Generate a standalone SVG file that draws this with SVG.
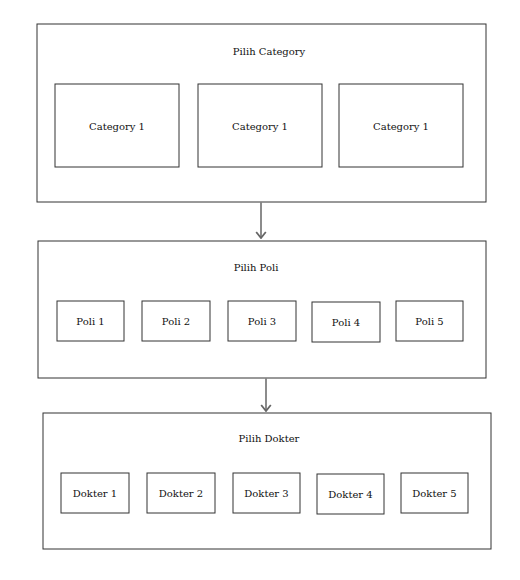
<svg xmlns="http://www.w3.org/2000/svg" width="520" height="580" viewBox="0 0 520 580">
<defs>
<style>
.box{fill:#fff;stroke:#333;stroke-width:1}
.t{font-family:"DejaVu Serif","Liberation Serif",serif;font-size:10px;fill:#111;text-anchor:middle;dominant-baseline:central}
.c{fill:none;stroke:#666;stroke-width:1.5}
</style>
<marker id="ah" markerWidth="12" markerHeight="12" refX="9" refY="5" orient="auto" markerUnits="userSpaceOnUse" viewBox="0 0 10 10">
<path d="M4,1 L9,5 L4,9" fill="none" stroke="#666" stroke-width="1.5"/>
</marker>
</defs>
<rect width="520" height="580" fill="#fff"/>
<g id="pilih-category">
<rect class="box" x="37" y="24" width="449" height="178"/>
<text class="t" x="269" y="51">Pilih Category</text>
</g>
<g id="category-1a"><rect class="box" x="55" y="84" width="124" height="83"/><text class="t" x="117" y="126">Category 1</text></g>
<g id="category-1b"><rect class="box" x="198" y="84" width="124" height="83"/><text class="t" x="260" y="126">Category 1</text></g>
<g id="category-1c"><rect class="box" x="339" y="84" width="124" height="83"/><text class="t" x="401" y="126">Category 1</text></g>
<g id="pilih-poli">
<rect class="box" x="38" y="241" width="448" height="137"/>
<text class="t" x="256" y="267">Pilih Poli</text>
</g>
<g id="poli-1"><rect class="box" x="57" y="301" width="67" height="40"/><text class="t" x="90.5" y="321">Poli 1</text></g>
<g id="poli-2"><rect class="box" x="142" y="301" width="68" height="40"/><text class="t" x="176" y="321">Poli 2</text></g>
<g id="poli-3"><rect class="box" x="228" y="301" width="68" height="40"/><text class="t" x="262" y="321">Poli 3</text></g>
<g id="poli-4"><rect class="box" x="312" y="302" width="68" height="40"/><text class="t" x="346" y="322">Poli 4</text></g>
<g id="poli-5"><rect class="box" x="396" y="301" width="67" height="40"/><text class="t" x="429.5" y="321">Poli 5</text></g>
<g id="pilih-dokter">
<rect class="box" x="43" y="413" width="448" height="136"/>
<text class="t" x="269" y="438">Pilih Dokter</text>
</g>
<g id="dokter-1"><rect class="box" x="61" y="473" width="68" height="40"/><text class="t" x="95" y="493">Dokter 1</text></g>
<g id="dokter-2"><rect class="box" x="147" y="473" width="68" height="40"/><text class="t" x="181" y="493">Dokter 2</text></g>
<g id="dokter-3"><rect class="box" x="233" y="473" width="67" height="40"/><text class="t" x="266.5" y="493">Dokter 3</text></g>
<g id="dokter-4"><rect class="box" x="317" y="474" width="67" height="40"/><text class="t" x="350.5" y="494">Dokter 4</text></g>
<g id="dokter-5"><rect class="box" x="401" y="473" width="67" height="40"/><text class="t" x="434.5" y="493">Dokter 5</text></g>
<g id="connectors">
<line class="c" x1="261" y1="202.5" x2="261" y2="238" marker-end="url(#ah)"/>
<line class="c" x1="266" y1="378.5" x2="266" y2="411" marker-end="url(#ah)"/>
</g>
</svg>
